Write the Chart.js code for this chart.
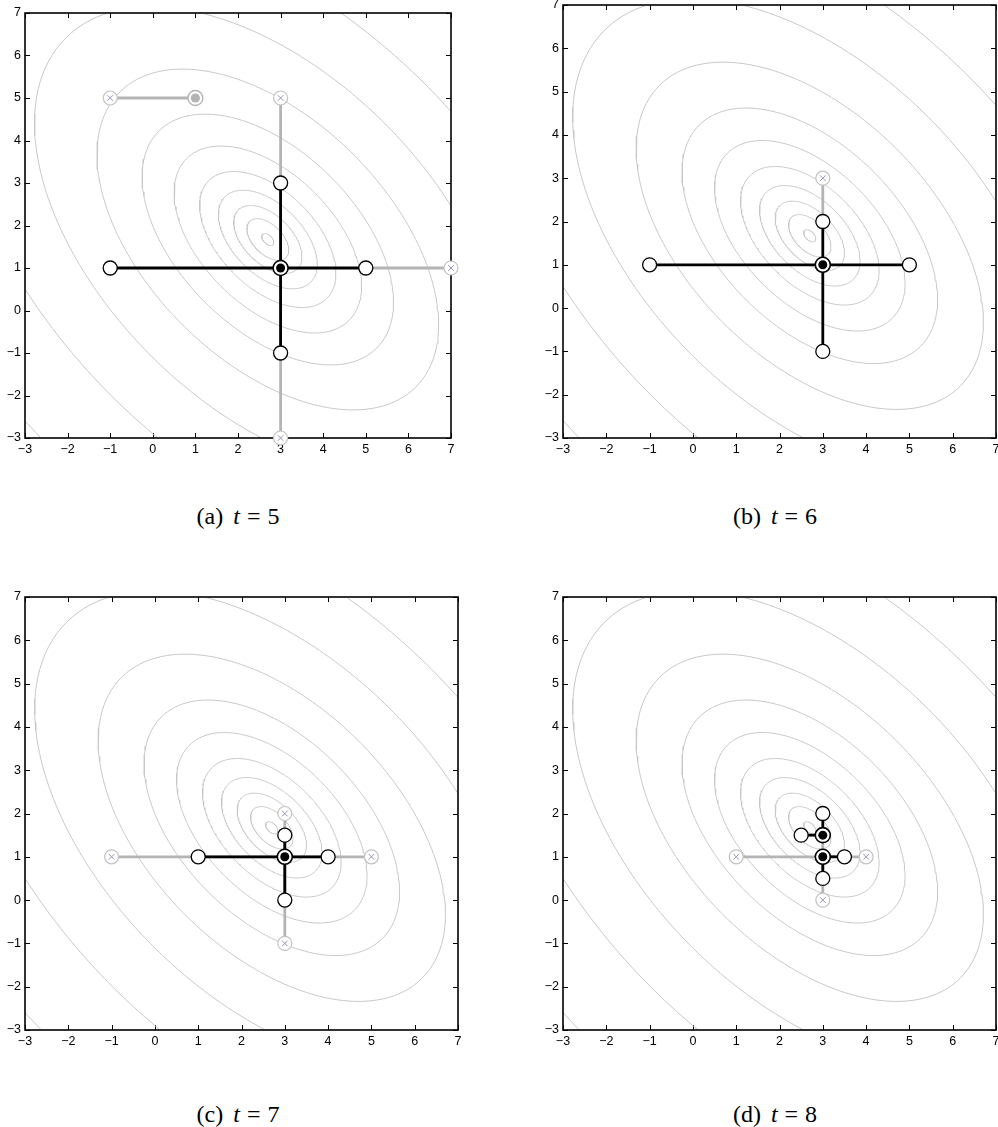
<!DOCTYPE html>
<html>
<head>
<meta charset="utf-8">
<script src="https://cdn.jsdelivr.net/npm/chart.js@4.4.1/dist/chart.umd.min.js"></script>
<style>
  html, body { margin: 0; padding: 0; background: #fff; }
  body { width: 998px; height: 1127px; position: relative; overflow: hidden; }
  canvas { position: absolute; }
  .cap { position: absolute; width: 240px; text-align: center; font-family: "Liberation Serif", "DejaVu Serif", serif; font-size: 24px; line-height: 26px; color: #000; }
  .cap i { margin-left: 4px; }
  .cap .eq { margin: 0 7px; }
</style>
</head>
<body>
<div class="cap" style="left:118px; top:503px">(a) <i>t</i><span class="eq">=</span>5</div>
<div class="cap" style="left:655px; top:503px">(b) <i>t</i><span class="eq">=</span>6</div>
<div class="cap" style="left:118px; top:1101px">(c) <i>t</i><span class="eq">=</span>7</div>
<div class="cap" style="left:655px; top:1101px">(d) <i>t</i><span class="eq">=</span>8</div>
<script>
// axis ticks, same on both axes
const tickValues = [-3, -2, -1, 0, 1, 2, 3, 4, 5, 6, 7];

// contour levels of the quadratic q(d) = a dx^2 + 2b dx dy + c dy^2 around the minimiser
const contourCenter = [2.7, 1.67];
const contourForm = [1, 0.5, 1];
const contourLevels = [0.015, 0.18, 0.48, 1.01, 1.92, 3.63, 6.53, 12.06, 22.5, 40.5, 75];

// t = 5
const t5Gray = [[[-1, 5], [1, 5]], [[3, 5], [3, -3]], [[5, 1], [7, 1]]];
const t5Black = [[[-1, 1], [5, 1]], [[3, 3], [3, -1]]];
const t5Rejected = [[-1, 5], [3, 5], [3, -3], [7, 1]];
const t5Trial = [[-1, 1], [5, 1], [3, 3], [3, -1]];
const t5Current = [[3, 1]];
const t5Previous = [[1, 5]];

// t = 6
const t6Gray = [[[3, 3], [3, 2]]];
const t6Black = [[[-1, 1], [5, 1]], [[3, 2], [3, -1]]];
const t6Rejected = [[3, 3]];
const t6Trial = [[-1, 1], [5, 1], [3, 2], [3, -1]];
const t6Current = [[3, 1]];

// t = 7
const t7Gray = [[[-1, 1], [5, 1]], [[3, 2], [3, -1]]];
const t7Black = [[[1, 1], [4, 1]], [[3, 1.5], [3, 0]]];
const t7Rejected = [[-1, 1], [5, 1], [3, 2], [3, -1]];
const t7Trial = [[1, 1], [4, 1], [3, 1.5], [3, 0]];
const t7Current = [[3, 1]];

// t = 8
const t8Gray = [[[1, 1], [4, 1]], [[3, 1.5], [3, 0]]];
const t8Black = [[[3, 1], [3.5, 1]], [[3, 1], [3, 0.5]], [[2.5, 1.5], [3, 1.5]], [[3, 1.5], [3, 2]]];
const t8Rejected = [[1, 1], [4, 1], [3, 0]];
const t8Trial = [[3.5, 1], [3, 0.5], [2.5, 1.5], [3, 2]];
const t8Current = [[3, 1], [3, 1.5]];

const panels = [
  { left: 25, top: 13, right: 451, bottom: 438, gray: t5Gray, black: t5Black, rejected: t5Rejected, trial: t5Trial, current: t5Current, previous: t5Previous },
  { left: 563, top: 5, right: 996, bottom: 438, gray: t6Gray, black: t6Black, rejected: t6Rejected, trial: t6Trial, current: t6Current, previous: [] },
  { left: 25, top: 597, right: 458, bottom: 1030, gray: t7Gray, black: t7Black, rejected: t7Rejected, trial: t7Trial, current: t7Current, previous: [] },
  { left: 563, top: 597, right: 996, bottom: 1030, gray: t8Gray, black: t8Black, rejected: t8Rejected, trial: t8Trial, current: t8Current, previous: [] }
];

const pts = arr => arr.map(p => ({ x: p[0], y: p[1] }));
const fmt = v => v < 0 ? '\u2212' + Math.abs(v) : String(v);

function contourPath(level) {
  const [a, b, c] = contourForm;
  const out = [];
  for (let i = 0; i <= 240; i++) {
    const th = i / 240 * 2 * Math.PI;
    const u = Math.cos(th), w = Math.sin(th);
    const r = Math.sqrt(level / (a * u * u + 2 * b * u * w + c * w * w));
    out.push({ x: contourCenter[0] + r * u, y: contourCenter[1] + r * w });
  }
  return out;
}

const frame = {
  id: 'frame',
  beforeDatasetsDraw(chart) {
    const { ctx, chartArea: a, scales: { x, y } } = chart;
    ctx.save();
    ctx.strokeStyle = '#000';
    ctx.lineWidth = 1;
    ctx.beginPath();
    tickValues.forEach(v => {
      const px = Math.round(x.getPixelForValue(v)) + 0.5;
      ctx.moveTo(px, a.bottom); ctx.lineTo(px, a.bottom - 5);
      ctx.moveTo(px, a.top); ctx.lineTo(px, a.top + 5);
      const py = Math.round(y.getPixelForValue(v)) + 0.5;
      ctx.moveTo(a.left, py); ctx.lineTo(a.left + 5, py);
      ctx.moveTo(a.right, py); ctx.lineTo(a.right - 5, py);
    });
    ctx.stroke();
    ctx.lineWidth = 1.6;
    ctx.strokeRect(a.left, a.top, a.width, a.height);
    ctx.restore();
  }
};

const tickFont = { family: '"Liberation Sans", Arial, sans-serif', size: 12.5 };

function axis(isX) {
  return {
    type: 'linear', min: -3, max: 7,
    afterBuildTicks: s => { s.ticks = tickValues.map(v => ({ value: v })); },
    afterFit: s => { if (isX) s.height = 30; else s.width = 40; },
    grid: { display: false, drawTicks: false },
    border: { display: false },
    ticks: { autoSkip: false, maxRotation: 0, padding: isX ? 4 : 4, color: '#000', font: tickFont, callback: v => fmt(v) }
  };
}

panels.forEach(p => {
  const cv = document.createElement('canvas');
  const w = p.right - p.left + 40 + 15, h = p.bottom - p.top + 15 + 30;
  cv.width = w; cv.height = h;
  cv.style.left = (p.left - 40) + 'px';
  cv.style.top = (p.top - 15) + 'px';
  cv.style.width = w + 'px'; cv.style.height = h + 'px';
  document.body.appendChild(cv);

  const datasets = [];
  contourLevels.forEach(l => datasets.push({
    data: contourPath(l), showLine: true, pointRadius: 0, borderColor: '#c8c8c8', borderWidth: 1, clip: -1, order: 6
  }));
  p.gray.forEach(s => datasets.push({
    data: pts(s), showLine: true, pointRadius: 0, borderColor: '#b4b4b4', borderWidth: 2.8, clip: false, order: 5
  }));
  p.black.forEach(s => datasets.push({
    data: pts(s), showLine: true, pointRadius: 0, borderColor: '#000', borderWidth: 2.8, clip: false, order: 4
  }));
  // rejected trial points: grey ring with a small cross
  datasets.push({ data: pts(p.rejected), pointStyle: 'circle', pointRadius: 7, backgroundColor: '#fff', borderColor: '#c2c2c2', borderWidth: 1.2, clip: false, order: 3 });
  datasets.push({ data: pts(p.rejected), pointStyle: 'crossRot', pointRadius: 4, borderColor: '#9494b8', borderWidth: 1, clip: false, order: 2 });
  // previous iterate
  datasets.push({ data: pts(p.previous), pointStyle: 'circle', pointRadius: 7.5, backgroundColor: '#fff', borderColor: '#b4b4b4', borderWidth: 1.4, clip: false, order: 3 });
  datasets.push({ data: pts(p.previous), pointStyle: 'circle', pointRadius: 4.6, backgroundColor: '#b4b4b4', borderWidth: 0, clip: false, order: 2 });
  // current trial points
  datasets.push({ data: pts(p.trial), pointStyle: 'circle', pointRadius: 7, backgroundColor: '#fff', borderColor: '#000', borderWidth: 1.3, clip: false, order: 1 });
  // current iterate
  datasets.push({ data: pts(p.current), pointStyle: 'circle', pointRadius: 7.5, backgroundColor: '#fff', borderColor: '#000', borderWidth: 1.6, clip: false, order: 1 });
  datasets.push({ data: pts(p.current), pointStyle: 'circle', pointRadius: 4.5, backgroundColor: '#000', borderWidth: 0, clip: false, order: 0 });

  new Chart(cv.getContext('2d'), {
    type: 'scatter',
    data: { datasets },
    options: {
      responsive: false,
      devicePixelRatio: 1,
      animation: false,
      events: [],
      layout: { padding: { left: 0, top: 15, right: 15, bottom: 0 } },
      plugins: { legend: { display: false }, tooltip: { enabled: false } },
      scales: { x: axis(true), y: axis(false) }
    },
    plugins: [frame]
  });
});
</script>
</body>
</html>
